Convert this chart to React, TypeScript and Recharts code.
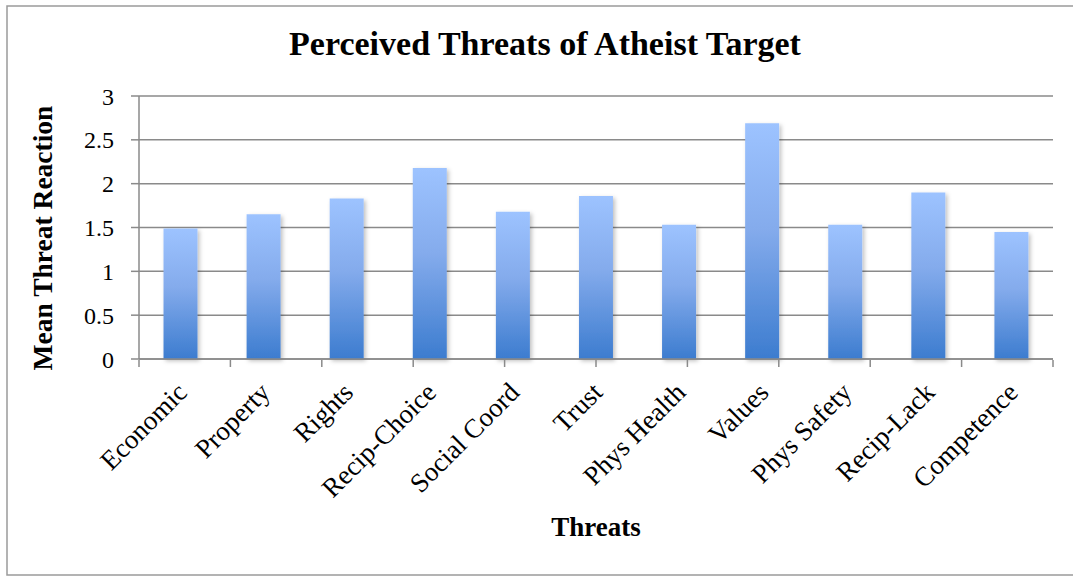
import React from 'react';
import { BarChart, Bar, XAxis, YAxis, CartesianGrid } from 'recharts';

const categories = ['Economic', 'Property', 'Rights', 'Recip-Choice', 'Social Coord', 'Trust', 'Phys Health', 'Values', 'Phys Safety', 'Recip-Lack', 'Competence'];
const meanThreat = [1.49, 1.65, 1.83, 2.18, 1.68, 1.86, 1.53, 2.69, 1.53, 1.9, 1.45];
const yTicks = [0, 0.5, 1, 1.5, 2, 2.5, 3];
const edgeTicks = [0, 1, 2, 3, 4, 5, 6, 7, 8, 9, 10, 11];

const chartTitle = 'Perceived Threats of Atheist Target';
const xTitle = 'Threats';
const yTitle = 'Mean Threat Reaction';

const data = categories.map((c, i) => ({ name: c, value: meanThreat[i] }));

const FONT = '"Liberation Serif", "DejaVu Serif", serif';
const GRID = '#8a8a8a';

const CatTick = (props: any) => {
  const { x, y, payload } = props;
  return (
    <g transform={`translate(${x + 8},${y + 27})`}>
      <text x={0} y={0} textAnchor="end" transform="rotate(-45)" fontFamily={FONT} fontSize={27} fill="#000">
        {payload.value}
      </text>
    </g>
  );
};

const EmptyTick = (props: any) => (
  <text x={props.x} y={props.y} fontSize={1} fill="none">{''}</text>
);

export default function App() {
  return (
    <div style={{ position: 'absolute', left: 0, top: 0, width: 1073, height: 576, background: '#fff' }}>
      <BarChart width={1073} height={576} data={data} margin={{ top: 96, right: 20, bottom: 215, left: 0 }} barCategoryGap="29.5%">
        <defs>
          <linearGradient id="barGrad" x1="0" y1="0" x2="0" y2="1">
            <stop offset="0%" stopColor="#9DC3FF" />
            <stop offset="45%" stopColor="#84ABEC" />
            <stop offset="100%" stopColor="#3C7CCF" />
          </linearGradient>
          <filter id="barShadow" x="-20%" y="-5%" width="150%" height="115%">
            <feDropShadow dx="2" dy="2" stdDeviation="2" floodColor="#000" floodOpacity="0.25" />
          </filter>
        </defs>
        <CartesianGrid vertical={false} stroke={GRID} strokeWidth={1.5} />
        <XAxis dataKey="name" height={1} axisLine={{ stroke: GRID, strokeWidth: 1.5 }} tickLine={false} tick={CatTick} interval={0} />
        <XAxis xAxisId="edges" type="number" domain={[0, 11]} ticks={edgeTicks} interval={0} height={1} axisLine={false} tickLine={{ stroke: GRID, strokeWidth: 1.5 }} tickSize={7} tick={EmptyTick} allowDataOverflow />
        <YAxis width={139} domain={[0, 3]} ticks={yTicks} interval={0} axisLine={{ stroke: GRID, strokeWidth: 1.5 }} tickLine={{ stroke: GRID, strokeWidth: 1.5 }} tickSize={8} tickMargin={17} tick={{ fontFamily: FONT, fontSize: 24, fill: '#000' }} />
        <Bar dataKey="value" fill="url(#barGrad)" filter="url(#barShadow)" isAnimationActive={false} />
      </BarChart>
      <svg width={1073} height={576} style={{ position: 'absolute', left: 0, top: 0, pointerEvents: 'none' }}>
        <rect x={7} y={6} width={1080} height={569} fill="none" stroke="#9a9a9a" strokeWidth={1.5} />
        <text x={545} y={55} textAnchor="middle" fontFamily={FONT} fontWeight="bold" fontSize={34} fill="#000">{chartTitle}</text>
        <text x={596} y={536} textAnchor="middle" fontFamily={FONT} fontWeight="bold" fontSize={27} fill="#000">{xTitle}</text>
        <text transform="translate(52,238) rotate(-90)" textAnchor="middle" fontFamily={FONT} fontWeight="bold" fontSize={27.5} fill="#000">{yTitle}</text>
      </svg>
    </div>
  );
}
